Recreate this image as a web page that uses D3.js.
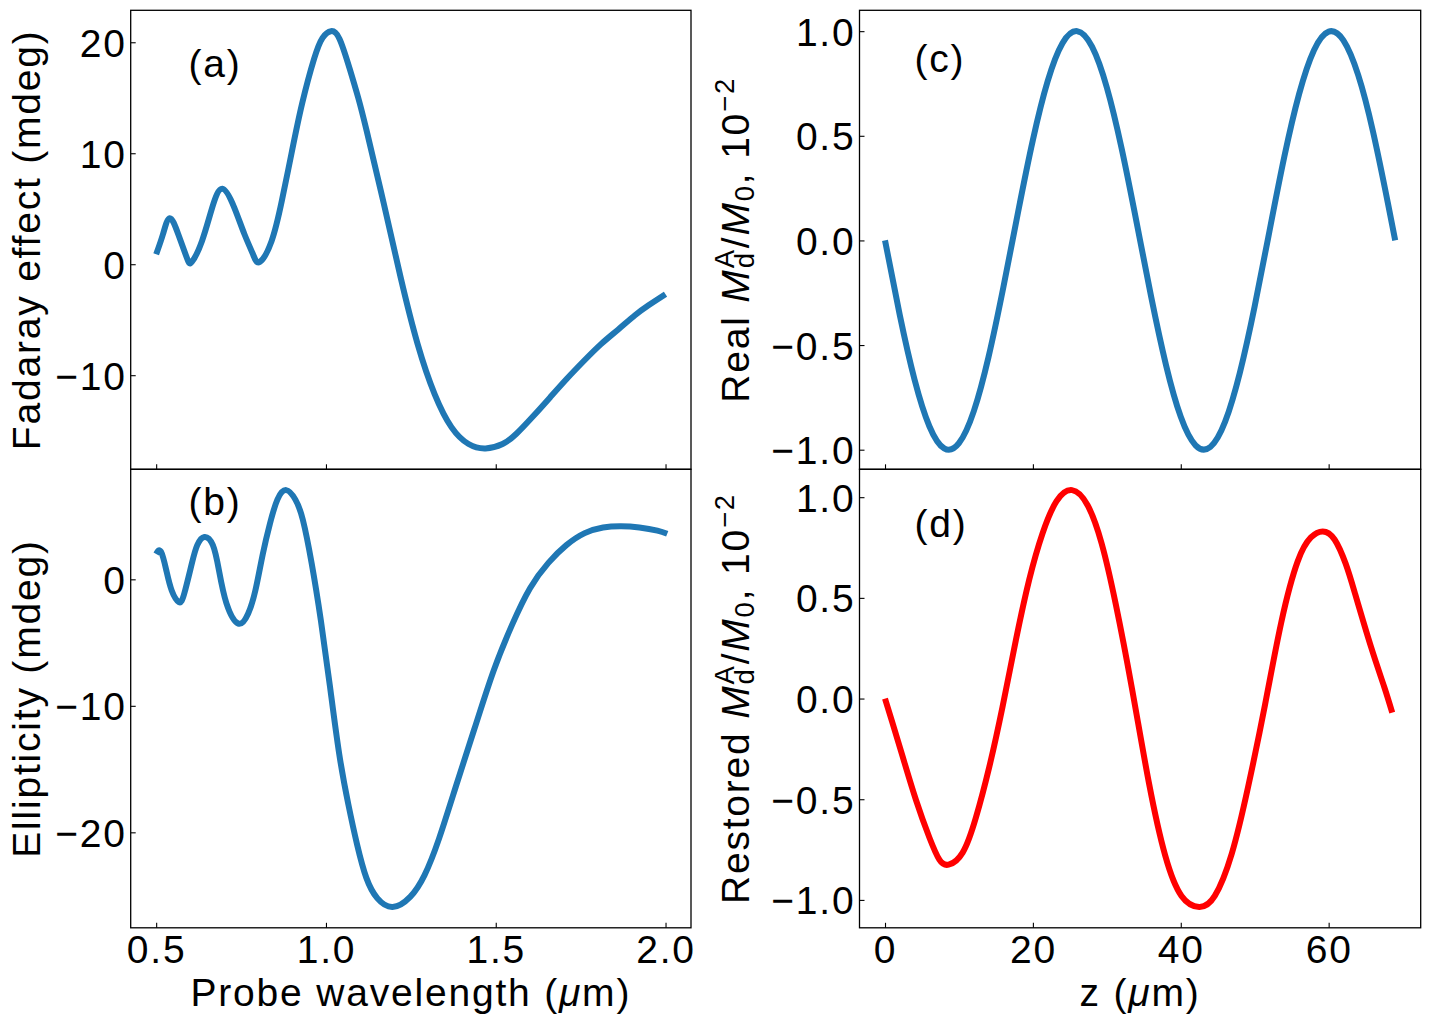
<!DOCTYPE html>
<html lang="en">
<head>
  <meta charset="utf-8">
  <title>Faraday effect, ellipticity and magnetization profile</title>
  <script src="https://cdn.jsdelivr.net/npm/d3@7"></script>
  <style>
    body { margin: 0; background: #fff; }
    text { font-family: Arial, "Liberation Sans", sans-serif; fill: #000; letter-spacing: 1.8px; }
  </style>
</head>
<body>
<script>
  // ---- values ----
  // (a) Faraday effect vs probe wavelength
  var lamA = [0.50, 0.52, 0.54, 0.565, 0.59, 0.605, 0.635, 0.665, 0.695, 0.73, 0.76, 0.785, 0.805,
              0.84, 0.87, 0.90, 0.93, 0.965, 0.99, 1.015, 1.04, 1.07, 1.095, 1.12, 1.17, 1.22, 1.27,
              1.32, 1.37, 1.42, 1.47, 1.52, 1.56, 1.61, 1.66, 1.71, 1.76, 1.81, 1.86, 1.91, 1.95, 2.00];
  var faraday = [0.9, 2.7, 4.15, 2.7, 0.6, 0.2, 2.1, 5.1, 6.8, 5.1, 2.7, 0.9, 0.2,
                 2.1, 5.7, 10.2, 14.5, 18.5, 20.4, 21.0, 20.3, 17.6, 15.0, 12.0, 5.5, -1.2, -7.2,
                 -11.7, -14.7, -16.2, -16.6, -16.2, -15.3, -13.7, -12.0, -10.3, -8.7, -7.2, -5.9, -4.6, -3.7, -2.7];

  // (b) ellipticity vs probe wavelength
  var lamB = [0.50, 0.514, 0.53, 0.546, 0.567, 0.583, 0.605, 0.621, 0.642, 0.667, 0.685, 0.707, 0.742,
              0.771, 0.792, 0.814, 0.835, 0.857, 0.883, 0.91, 0.932, 0.958, 0.985, 1.012, 1.039, 1.066,
              1.092, 1.119, 1.151, 1.196, 1.248, 1.29, 1.333, 1.387, 1.441, 1.494, 1.548, 1.601, 1.655,
              1.708, 1.762, 1.816, 1.869, 1.923, 1.976, 2.005];
  var ellip = [2.0, 2.2, 0.7, -0.9, -1.8, -1.1, 1.25, 2.7, 3.35, 2.7, 0.7, -1.9, -3.5,
               -2.7, -0.9, 2.0, 4.4, 6.3, 7.05, 6.3, 4.7, 1.25, -3.25, -8.5, -13.8, -17.8,
               -21.0, -23.6, -25.2, -25.9, -25.1, -23.4, -20.5, -16.0, -11.5, -7.2, -3.6, -0.7, 1.3,
               2.7, 3.65, 4.1, 4.2, 4.1, 3.85, 3.6];

  // (c) real magnetization profile vs z
  var zC = [0, 2, 4, 6, 8, 10, 12, 14, 16, 18, 20, 22, 24, 26, 28, 30, 32, 34, 36, 38,
            40, 42, 44, 46, 48, 50, 52, 54, 56, 58, 60, 62, 64, 66, 68, 69];
  var realM = [0, -0.357, -0.666, -0.888, -0.994, -0.969, -0.817, -0.557, -0.225, 0.136, 0.48,
               0.761, 0.942, 1.0, 0.926, 0.731, 0.44, 0.091, -0.27, -0.595, -0.843, -0.979,
               -0.987, -0.866, -0.631, -0.314, 0.045, 0.399, 0.699, 0.908, 0.998, 0.956, 0.79,
               0.52, 0.181, 0.0];

  // (d) restored magnetization profile vs z
  var zD = [0, 1, 2.4, 4.2, 6, 7.35, 8.6, 10.5, 12.3, 14.1, 15.9, 17.7, 19.5, 21.3, 23.2, 25.3,
            27.4, 29.3, 31.2, 33.4, 35.7, 37.9, 40.1, 42.5, 44.6, 46.9, 49.1, 51.4, 53.6, 55.8,
            57.6, 59.2, 60.8, 62.3, 63.5, 65.7, 67.5, 68.6];
  var restM = [0, -0.12, -0.29, -0.505, -0.69, -0.80, -0.825, -0.765, -0.59, -0.34, -0.04, 0.29,
               0.59, 0.82, 0.98, 1.035, 0.96, 0.77, 0.47, 0.05, -0.42, -0.78, -0.98, -1.035, -0.98,
               -0.77, -0.44, -0.03, 0.38, 0.68, 0.80, 0.83, 0.79, 0.67, 0.53, 0.26, 0.06, -0.07];

  // tick labels
  var lamTicks = [0.5, 1.0, 1.5, 2.0];
  var zTicks = [0, 20, 40, 60];
  var faradayTicks = [-10, 0, 10, 20];
  var ellipTicks = [-20, -10, 0];
  var mTicks = [-1.0, -0.5, 0.0, 0.5, 1.0];

  // ---- layout ----
  var W = 1437, H = 1021;
  var fontSize = 39, subSize = 27.5;
  var leftCol = [130.7, 691], rightCol = [859.5, 1420.7];
  var rows = [10.3, 469.3, 927.8];

  var svg = d3.select('body').append('svg')
    .attr('width', W)
    .attr('height', H);

  // matplotlib style 5% margins around the data
  function padded(values) {
    var e = d3.extent(values);
    var p = (e[1] - e[0]) * 0.05;
    return [e[0] - p, e[1] + p];
  }

  function drawPanel(o) {
    var x0 = o.col[0], x1 = o.col[1], y0 = o.row[0], y1 = o.row[1];
    var x = d3.scaleLinear().domain(o.xDomain).range([x0, x1]);
    var y = d3.scaleLinear().domain(padded(o.ys)).range([y1, y0]);
    var g = svg.append('g');

    // inward ticks on bottom and left
    var xAxis = g.append('g')
      .attr('transform', 'translate(0,' + y1 + ')')
      .call(d3.axisBottom(x).tickValues(o.xTicks).tickSize(-5).tickPadding(8)
        .tickFormat(o.xLabels ? d3.format(o.xFormat) : ''));
    var yAxis = g.append('g')
      .attr('transform', 'translate(' + x0 + ',0)')
      .call(d3.axisLeft(y).tickValues(o.yTicks).tickSize(-5).tickPadding(4)
        .tickFormat(d3.format(o.yFormat)));
    [xAxis, yAxis].forEach(function (a) {
      a.select('.domain').remove();
      a.attr('font-size', fontSize);
      a.selectAll('.tick line').attr('stroke-width', 1.1);
    });
    yAxis.selectAll('.tick text').attr('dy', '0.36em');

    g.append('path')
      .datum(d3.zip(o.xs, o.ys))
      .attr('fill', 'none')
      .attr('stroke', o.color)
      .attr('stroke-width', 6)
      .attr('stroke-linejoin', 'round')
      .attr('d', d3.line()
        .x(function (d) { return x(d[0]); })
        .y(function (d) { return y(d[1]); })
        .curve(d3.curveNatural));

    g.append('rect')
      .attr('x', x0).attr('y', y0)
      .attr('width', x1 - x0).attr('height', y1 - y0)
      .attr('fill', 'none')
      .attr('stroke', '#000')
      .attr('stroke-width', 1.3);

    g.append('text')
      .attr('x', x0 + o.tag[0] * (x1 - x0))
      .attr('y', y0 + o.tag[1] * (y1 - y0))
      .attr('font-size', fontSize)
      .text(o.name);
  }

  var lamDomain = padded(lamA);
  var zDomain = padded(zC);

  drawPanel({ name: '(a)', col: leftCol, row: [rows[0], rows[1]], xs: lamA, ys: faraday,
    xDomain: lamDomain, xTicks: lamTicks, xFormat: '.1f', xLabels: false,
    yTicks: faradayTicks, yFormat: 'd', color: '#1f77b4', tag: [0.103, 0.146] });
  drawPanel({ name: '(b)', col: leftCol, row: [rows[1], rows[2]], xs: lamB, ys: ellip,
    xDomain: lamDomain, xTicks: lamTicks, xFormat: '.1f', xLabels: true,
    yTicks: ellipTicks, yFormat: 'd', color: '#1f77b4', tag: [0.103, 0.10] });
  drawPanel({ name: '(c)', col: rightCol, row: [rows[0], rows[1]], xs: zC, ys: realM,
    xDomain: zDomain, xTicks: zTicks, xFormat: 'd', xLabels: false,
    yTicks: mTicks, yFormat: '.1f', color: '#1f77b4', tag: [0.098, 0.135] });
  drawPanel({ name: '(d)', col: rightCol, row: [rows[1], rows[2]], xs: zD, ys: restM,
    xDomain: zDomain, xTicks: zTicks, xFormat: 'd', xLabels: true,
    yTicks: mTicks, yFormat: '.1f', color: '#ff0000', tag: [0.098, 0.148] });

  // ---- axis titles ----
  function xTitle(cx, pre) {
    var t = svg.append('text')
      .attr('x', cx).attr('y', 1006)
      .attr('text-anchor', 'middle')
      .attr('font-size', fontSize);
    t.append('tspan').text(pre + '(');
    t.append('tspan').attr('font-style', 'italic').text('\u03bc');
    t.append('tspan').text('m)');
  }
  xTitle((leftCol[0] + leftCol[1]) / 2, 'Probe wavelength ');
  xTitle((rightCol[0] + rightCol[1]) / 2, 'z ');

  function yTitle(bx, cy) {
    return svg.append('text')
      .attr('transform', 'translate(' + bx + ',' + cy + ') rotate(-90)')
      .attr('text-anchor', 'middle')
      .attr('font-size', fontSize);
  }
  yTitle(40, (rows[0] + rows[1]) / 2).text('Fadaray effect (mdeg)');
  yTitle(40, (rows[1] + rows[2]) / 2).text('Ellipticity (mdeg)');

  function magTitle(cy, word) {
    var t = yTitle(749, cy);
    t.append('tspan').text(word + ' ');
    t.append('tspan').attr('font-style', 'italic').text('M');
    t.append('tspan').attr('font-size', subSize).attr('dy', 5).text('d');
    t.append('tspan').attr('font-size', subSize).attr('dx', -(0.556 * subSize + 1.8)).attr('dy', -20).text('A');
    t.append('tspan').attr('dy', 15).text('/');
    t.append('tspan').attr('font-style', 'italic').text('M');
    t.append('tspan').attr('font-size', subSize).attr('dy', 5).text('0');
    t.append('tspan').attr('dy', -5).text(', 10');
    t.append('tspan').attr('font-size', subSize).attr('dy', -15).text('\u22122');
  }
  magTitle((rows[0] + rows[1]) / 2, 'Real');
  magTitle((rows[1] + rows[2]) / 2, 'Restored');
</script>
</body>
</html>
